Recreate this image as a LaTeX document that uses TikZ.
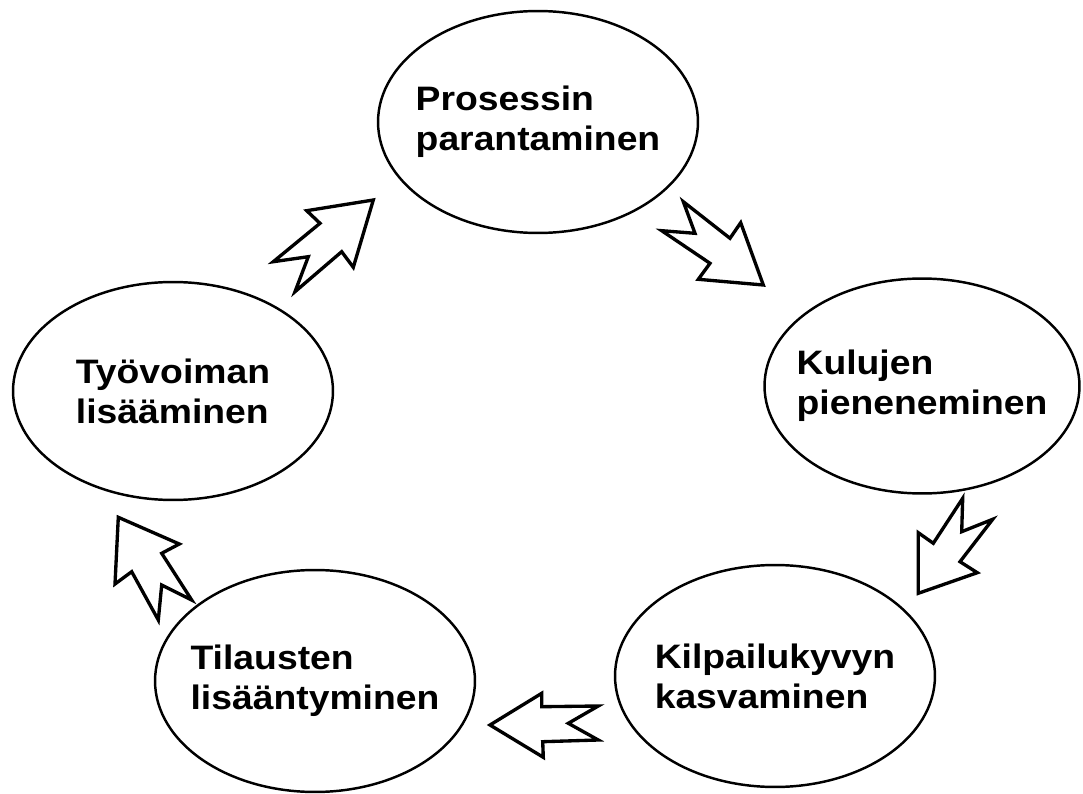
\documentclass[tikz,border=0pt]{standalone}
\usepackage{fontspec}
\setmainfont[FakeStretch=1.1]{Liberation Sans}
\usepackage{tikz}
\usetikzlibrary{shapes.geometric}

\begin{document}
\begin{tikzpicture}[x=0.02cm, y=-0.02cm,
    vaihe/.style={draw, ellipse, line width=1.4pt, inner sep=0pt,
      minimum width=6.4cm, minimum height=4.44cm},
    teksti/.style={align=left, font=\bfseries\fontsize{19.3}{22.8}\selectfont},
    nuoli/.style={draw, line width=1.9pt, line join=miter}]
  \useasboundingbox (0,0) rectangle (1083,794);

  \node[vaihe] (prosessi) at (538,122) {};
  \node[vaihe, minimum width=6.3cm, minimum height=4.3cm] (kulut) at (922,386) {};
  \node[vaihe] (kilpailu) at (775,676) {};
  \node[vaihe] (tilaukset) at (315,681) {};
  \node[vaihe, minimum height=4.36cm] (tyovoima) at (173,391) {};

  \node[teksti] (prosessiteksti) at (prosessi) {Prosessin\\parantaminen};
  \node[teksti] (kuluteksti) at (kulut) {Kulujen\\pieneneminen};
  \node[teksti] (kilpailuteksti) at (kilpailu) {Kilpailukyvyn\\kasvaminen};
  \node[teksti] (tilausteksti) at (tilaukset) {Tilausten\\lisääntyminen};
  \node[teksti] (tyovoimateksti) at (tyovoima) {Työvoiman\\lisääminen};

  \draw[nuoli] (373.3,200) -- (306.7,210.7) -- (320,223.3) -- (273.3,261.7)
    -- (308.3,256.7) -- (295,291.7) -- (341.7,251.7) -- (353.3,267.3) -- cycle;
  \draw[nuoli] (683.3,201.7) -- (695,233.3) -- (661.7,230.7) -- (710,263.3)
    -- (698.3,279.3) -- (763.3,285) -- (740.7,222.7) -- (730,238.3) -- cycle;
  \draw[nuoli] (962.7,498.3) -- (961.7,531.7) -- (992.7,519.3) -- (960,561.7)
    -- (977.3,572.7) -- (918.3,593.3) -- (918.3,532.7) -- (933.3,543.3) -- cycle;
  \draw[nuoli] (490,725) -- (541.7,693.3) -- (541.7,706.7) -- (598.3,706)
    -- (568.3,723.3) -- (598.3,740) -- (542.7,741.7) -- (543.3,757.3) -- cycle;
  \draw[nuoli] (118.3,517.3) -- (179.3,544) -- (161.7,553.3) -- (191.7,600)
    -- (161.7,585) -- (158.3,620) -- (131.7,571.7) -- (115,584) -- cycle;

\end{tikzpicture}
\end{document}
